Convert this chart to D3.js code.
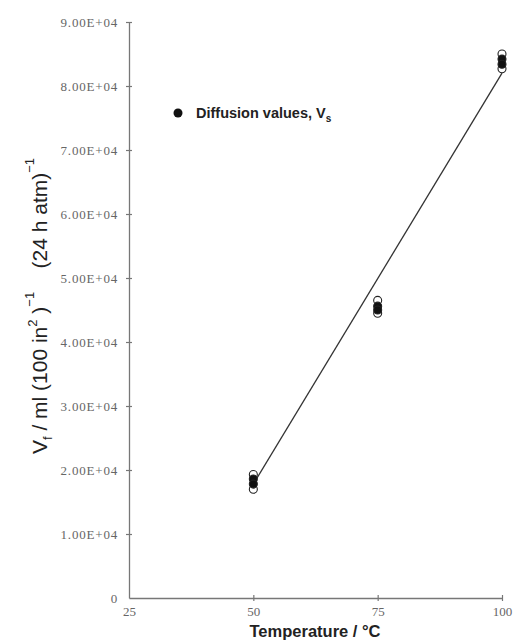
<!DOCTYPE html>
<html>
<head>
<meta charset="utf-8">
<script src="https://cdn.jsdelivr.net/npm/d3@7"></script>
<style>
	body { margin: 0; background: #fff; }
	svg { display: block; }
</style>
</head>
<body>
<svg id="chart" width="514" height="643"></svg>
<script>
	// data
	var temps		= [50, 75, 100],
		openVals	= [[19300, 17000], [46500, 44500], [85000, 82700]],
		filledVals	= [[18600, 17800], [45600, 45000], [84200, 83400]],
		fitLine		= [[50, 17800], [100, 82000]],
		xTicks		= [25, 50, 75, 100],
		yTicks		= [0, 10000, 20000, 30000, 40000, 50000, 60000, 70000, 80000, 90000],
		yTickLabels	= ["0", "1.00E+04", "2.00E+04", "3.00E+04", "4.00E+04", "5.00E+04", "6.00E+04", "7.00E+04", "8.00E+04", "9.00E+04"];

	var svg	= d3.select("#chart"),
		x	= d3.scaleLinear().domain([25, 100]).range([129, 502]),
		y	= d3.scaleLinear().domain([0, 90000]).range([598, 22]);

	// axes
	var yAxis = svg.append("g").attr("transform", "translate(" + x(25) + ",0)")
		.call(d3.axisLeft(y).tickValues(yTicks).tickSizeInner(3).tickSizeOuter(0).tickPadding(8)
			.tickFormat(function(d, i) { return yTickLabels[i]; }));
	var xAxis = svg.append("g").attr("transform", "translate(0," + y(0) + ")")
		.call(d3.axisBottom(x).tickValues(xTicks).tickSizeInner(3).tickSizeOuter(0).tickPadding(6));

	[yAxis, xAxis].forEach(function(g) {
		g.select(".domain").attr("stroke", "#777").attr("stroke-width", 1.3);
		g.selectAll(".tick text").attr("fill", "#666")
			.style("font-family", "'Liberation Serif', serif").style("font-size", "13px");
	});
	yAxis.selectAll(".tick line").attr("x1", 3).attr("stroke", "#777").attr("stroke-width", 1.2);
	yAxis.selectAll(".tick text").style("letter-spacing", "0.8px");
	yAxis.selectAll(".tick").filter(function(d) { return d === 0; }).select("line").remove();
	xAxis.selectAll(".tick line").attr("y1", -3).attr("stroke", "#777").attr("stroke-width", 1.2);
	xAxis.selectAll(".tick").filter(function(d) { return d === 25; }).select("line").remove();

	// fitted line
	svg.append("path").datum(fitLine)
		.attr("fill", "none").attr("stroke", "#333").attr("stroke-width", 1.3)
		.attr("d", d3.line().x(function(d) { return x(d[0]); }).y(function(d) { return y(d[1]); }));

	// points
	var pts = [];
	temps.forEach(function(t, i) {
		openVals[i].forEach(function(v) { pts.push({t: t, v: v, filled: false}); });
		filledVals[i].forEach(function(v) { pts.push({t: t, v: v, filled: true}); });
	});
	svg.append("g").selectAll("circle").data(pts).enter().append("circle")
		.attr("cx", function(d) { return x(d.t); })
		.attr("cy", function(d) { return y(d.v); })
		.attr("r", 4)
		.attr("fill", function(d) { return d.filled ? "#111" : "#fff"; })
		.attr("stroke", "#222").attr("stroke-width", 1.1);

	// legend
	var legend = svg.append("g");
	legend.append("circle").attr("cx", 178).attr("cy", 113).attr("r", 4.5).attr("fill", "#111");
	var lt = legend.append("text").attr("x", 196).attr("y", 118)
		.style("font-family", "'Liberation Sans', Arial, sans-serif").style("font-weight", "bold")
		.style("font-size", "14.5px").attr("fill", "#222");
	lt.append("tspan").text("Diffusion values, V");
	lt.append("tspan").attr("dy", 4).style("font-size", "10px").text("s");

	// axis titles
	svg.append("text").attr("x", 315).attr("y", 637).attr("text-anchor", "middle")
		.style("font-family", "'Liberation Sans', Arial, sans-serif").style("font-weight", "bold")
		.style("font-size", "16.5px").attr("fill", "#222").text("Temperature / °C");

	var yt = svg.append("text").attr("transform", "translate(47,306) rotate(-90)")
		.attr("text-anchor", "middle")
		.style("font-family", "'Liberation Sans', Arial, sans-serif")
		.style("font-size", "21px").attr("fill", "#222");
	yt.append("tspan").text("V");
	yt.append("tspan").attr("dy", 5).style("font-size", "13px").text("f");
	yt.append("tspan").attr("dy", -5).text(" / ml (100 in");
	yt.append("tspan").attr("dy", -10).style("font-size", "13px").text("2");
	yt.append("tspan").attr("dy", 10).text("\u00a0)");
	yt.append("tspan").attr("dy", -13).style("font-size", "13px").text("\u22121");
	yt.append("tspan").attr("dy", 13).text("\u00a0\u00a0\u00a0\u00a0(24 h atm)");
	yt.append("tspan").attr("dy", -13).style("font-size", "13px").text("\u22121");
</script>
</body>
</html>
